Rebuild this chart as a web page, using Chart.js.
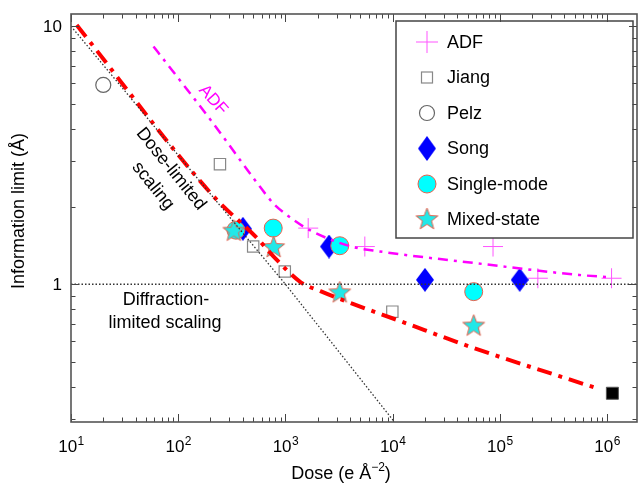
<!DOCTYPE html>
<html>
<head>
<meta charset="utf-8">
<script src="https://cdn.jsdelivr.net/npm/chart.js@4/dist/chart.umd.min.js"></script>
<style>
  html, body { margin: 0; padding: 0; background: #fff; }
  canvas { display: block; }
</style>
</head>
<body>
<canvas id="chart" width="638" height="485"></canvas>
<script>
// measured points (dose in e/A^2, information limit in A)
const adfDose = [1630, 5500, 86300, 226000, 1100000];
const adfLimit = [1.65, 1.40, 1.40, 1.055, 1.055];
const jiangDose = [245, 500, 986, 9930];
const jiangLimit = [2.92, 1.40, 1.12, 0.783];
const pelzDose = [20];
const pelzLimit = [5.92];
const songDose = [401, 2550, 20000, 153000];
const songLimit = [1.64, 1.40, 1.04, 1.04];
const singleDose = [345, 769, 3210, 57000];
const singleLimit = [1.62, 1.65, 1.41, 0.936];
const mixedDose = [330, 776, 3210, 57000];
const mixedLimit = [1.62, 1.40, 0.935, 0.695];
const blackDose = [1120000];
const blackLimit = [0.378];

// guide curves
const adfFitDose = [58.8, 77.8, 212, 577, 769, 1023, 1690, 4120, 7580, 60300, 553000, 1090000];
const adfFitLimit = [8.34, 7.19, 4.2, 2.39, 2.06, 1.86, 1.62, 1.40, 1.34, 1.206, 1.086, 1.064];
const mixedFitDose = [11.3, 214, 543, 776, 1380, 2120, 4570, 11000, 57000, 790000];
const mixedFitLimit = [10.1, 2.19, 1.51, 1.28, 1.02, 0.94, 0.83, 0.727, 0.566, 0.396];
const doseLimDose = [10, 1000, 10400];
const doseLimLimit = [10, 1, 0.2925];
const diffLimDose = [10, 1900000];
const diffLimLimit = [1, 1];

// axes
const xMin = 10, xMax = 1900000;
const yMin = 0.2925, yMax = 11.15;
const xExponents = [1, 2, 3, 4, 5, 6];
const yTickValues = [1, 10];
const yTickLabels = ['1', '10'];

const FONT = '"Liberation Sans", Arial, Helvetica, sans-serif';

function pts(xs, ys) {
    return xs.map((x, i) => ({ x: x, y: ys[i] }));
}

// point images for shapes Chart.js doesn't have
function diamondImg(w, h, color) {
    const c = document.createElement('canvas');
    c.width = w; c.height = h;
    const g = c.getContext('2d');
    g.fillStyle = color;
    g.beginPath();
    g.moveTo(w / 2, 0); g.lineTo(w, h / 2); g.lineTo(w / 2, h); g.lineTo(0, h / 2);
    g.closePath();
    g.fill();
    return c;
}

function starImg(size, fill, stroke) {
    const c = document.createElement('canvas');
    c.width = size; c.height = size;
    const g = c.getContext('2d');
    const R = size / 2 - 1, r = R * 0.42, cx = size / 2, cy = size / 2 + 1;
    g.beginPath();
    for (let i = 0; i < 10; i++) {
        const rad = i % 2 ? r : R;
        const a = -Math.PI / 2 + i * Math.PI / 5;
        const px = cx + rad * Math.cos(a), py = cy + rad * Math.sin(a);
        i ? g.lineTo(px, py) : g.moveTo(px, py);
    }
    g.closePath();
    g.fillStyle = fill; g.fill();
    g.strokeStyle = stroke; g.lineWidth = 1; g.stroke();
    return c;
}

const songShape = diamondImg(18, 24, '#0000ff');
const starShape = starImg(25, '#22e8e8', '#e8604c');

function lineSet(data, color, width, dash, smooth) {
    return {
        data: data, showLine: true, pointRadius: 0, borderColor: color,
        borderWidth: width, borderDash: dash, fill: false, order: 0, clip: 0,
        tension: smooth ? 0.4 : 0, cubicInterpolationMode: smooth ? 'monotone' : 'default'
    };
}

const legendItems = [
    { label: 'ADF', kind: 'cross' },
    { label: 'Jiang', kind: 'square' },
    { label: 'Pelz', kind: 'circle' },
    { label: 'Song', kind: 'diamond' },
    { label: 'Single-mode', kind: 'disc' },
    { label: 'Mixed-state', kind: 'star' }
];

function drawMarker(ctx, kind, x, y) {
    ctx.save();
    ctx.setLineDash([]);
    if (kind === 'cross') {
        ctx.strokeStyle = '#ff55ff'; ctx.lineWidth = 1;
        ctx.beginPath();
        ctx.moveTo(x - 11, y); ctx.lineTo(x + 11, y);
        ctx.moveTo(x, y - 11); ctx.lineTo(x, y + 11);
        ctx.stroke();
    } else if (kind === 'square') {
        ctx.strokeStyle = '#888'; ctx.lineWidth = 1.2;
        ctx.strokeRect(x - 5.5, y - 5.5, 11, 11);
    } else if (kind === 'circle') {
        ctx.strokeStyle = '#666'; ctx.lineWidth = 1.2;
        ctx.beginPath(); ctx.arc(x, y, 7.5, 0, Math.PI * 2); ctx.stroke();
    } else if (kind === 'diamond') {
        ctx.drawImage(songShape, x - 9, y - 12.5, 18, 25);
    } else if (kind === 'disc') {
        ctx.fillStyle = '#00ffff'; ctx.strokeStyle = '#e8604c'; ctx.lineWidth = 1;
        ctx.beginPath(); ctx.arc(x, y, 9, 0, Math.PI * 2); ctx.fill(); ctx.stroke();
    } else if (kind === 'star') {
        ctx.drawImage(starShape, x - 12.5, y - 13.5);
    }
    ctx.restore();
}

function textAt(ctx, str, x, y, angleDeg, size, color) {
    ctx.save();
    ctx.translate(x, y);
    ctx.rotate(angleDeg * Math.PI / 180);
    ctx.font = size + 'px ' + FONT;
    ctx.fillStyle = color;
    ctx.textAlign = 'center';
    ctx.textBaseline = 'middle';
    ctx.fillText(str, 0, 0);
    ctx.restore();
}

const framePlugin = {
    id: 'frame',
    afterDatasetsDraw(chart) {
        const ctx = chart.ctx;
        const a = chart.chartArea;
        const xs = chart.scales.x, ys = chart.scales.y;

        // annotations
        textAt(ctx, 'ADF', 213, 100, 48, 17, '#ff00ff');
        textAt(ctx, 'Dose-limited', 171, 169, 51, 18, '#000');
        textAt(ctx, 'scaling', 153, 186, 51, 18, '#000');
        textAt(ctx, 'Diffraction-', 166, 300, 0, 18, '#000');
        textAt(ctx, 'limited scaling', 165, 323, 0, 18, '#000');

        // legend box
        ctx.save();
        ctx.fillStyle = '#fff';
        ctx.strokeStyle = '#444';
        ctx.lineWidth = 1.5;
        ctx.fillRect(396, 21, 237, 217);
        ctx.strokeRect(396, 21, 237, 217);
        ctx.font = '18px ' + FONT;
        ctx.fillStyle = '#000';
        ctx.textBaseline = 'middle';
        legendItems.forEach((it, i) => {
            const y = 42 + i * 35.5;
            drawMarker(ctx, it.kind, 427, y);
            ctx.fillText(it.label, 447, y + 1);
        });
        ctx.restore();

        // inward ticks on all four sides
        ctx.save();
        ctx.strokeStyle = '#444';
        ctx.lineWidth = 1;
        ctx.beginPath();
        for (let e = 1; e <= 6; e++) {
            for (let k = 1; k <= 9; k++) {
                const v = k * Math.pow(10, e);
                if (v < xMin || v > xMax) continue;
                const px = Math.round(xs.getPixelForValue(v)) + 0.5;
                const len = k === 1 ? 8 : 4.5;
                ctx.moveTo(px, a.bottom); ctx.lineTo(px, a.bottom - len);
                ctx.moveTo(px, a.top); ctx.lineTo(px, a.top + len);
            }
        }
        for (let e = -1; e <= 1; e++) {
            for (let k = 1; k <= 9; k++) {
                const v = k * Math.pow(10, e);
                if (v < yMin || v > yMax) continue;
                const py = Math.round(ys.getPixelForValue(v)) + 0.5;
                const len = k === 1 ? 8 : 4.5;
                ctx.moveTo(a.left, py); ctx.lineTo(a.left + len, py);
                ctx.moveTo(a.right, py); ctx.lineTo(a.right - len, py);
            }
        }
        ctx.stroke();
        ctx.strokeStyle = '#555';
        ctx.lineWidth = 1.6;
        ctx.strokeRect(a.left, a.top, a.right - a.left, a.bottom - a.top);
        ctx.restore();

        // tick labels
        ctx.save();
        ctx.fillStyle = '#000';
        ctx.textBaseline = 'alphabetic';
        xExponents.forEach(e => {
            const px = xs.getPixelForValue(Math.pow(10, e));
            ctx.font = '17px ' + FONT;
            const wMain = ctx.measureText('10').width;
            ctx.font = '12px ' + FONT;
            const wSup = ctx.measureText(String(e)).width;
            const x0 = px - (wMain + wSup) / 2;
            ctx.font = '17px ' + FONT;
            ctx.fillText('10', x0, 451.5);
            ctx.font = '12px ' + FONT;
            ctx.fillText(String(e), x0 + wMain + 0.5, 444.5);
        });
        ctx.font = '17px ' + FONT;
        ctx.textAlign = 'right';
        yTickValues.forEach((v, i) => {
            ctx.fillText(yTickLabels[i], 62, ys.getPixelForValue(v) + 6);
        });

        // axis titles
        ctx.textAlign = 'left';
        ctx.font = '18px ' + FONT;
        const t1 = 'Dose (e \u00C5', t2 = '\u22122', t3 = ')';
        const w1 = ctx.measureText(t1).width, w3 = ctx.measureText(t3).width;
        ctx.font = '12px ' + FONT;
        const w2 = ctx.measureText(t2).width;
        let tx = 341 - (w1 + w2 + w3) / 2;
        ctx.font = '18px ' + FONT;
        ctx.fillText(t1, tx, 479);
        ctx.font = '12px ' + FONT;
        ctx.fillText(t2, tx + w1, 471);
        ctx.font = '18px ' + FONT;
        ctx.fillText(t3, tx + w1 + w2, 479);
        ctx.restore();

        textAt(ctx, 'Information limit (\u00C5)', 19, 211, -90, 18, '#000');
    }
};

new Chart(document.getElementById('chart'), {
    type: 'scatter',
    data: {
        datasets: [
            lineSet(pts(doseLimDose, doseLimLimit), '#333', 1.3, [1.5, 2], false),
            lineSet(pts(diffLimDose, diffLimLimit), '#333', 1.3, [1.5, 2], false),
            lineSet(pts(adfFitDose, adfFitLimit), '#ff00ff', 2.5, [10, 6, 3, 6], true),
            lineSet(pts(mixedFitDose, mixedFitLimit), '#ff0000', 4, [15, 7, 4, 7], true),
            {
                label: 'ADF', data: pts(adfDose, adfLimit), order: 7,
                pointStyle: 'cross', pointRadius: 10, borderColor: '#ff55ff', borderWidth: 1
            },
            {
                label: 'Jiang', data: pts(jiangDose, jiangLimit), order: 6,
                pointStyle: 'rect', pointRadius: 8, backgroundColor: 'rgba(0,0,0,0)',
                borderColor: '#888', borderWidth: 1.2
            },
            {
                label: 'black', data: pts(blackDose, blackLimit), order: 6,
                pointStyle: 'rect', pointRadius: 8.5, backgroundColor: '#000',
                borderColor: '#555', borderWidth: 1
            },
            {
                label: 'Pelz', data: pts(pelzDose, pelzLimit), order: 5,
                pointStyle: 'circle', pointRadius: 7.5, backgroundColor: 'rgba(0,0,0,0)',
                borderColor: '#666', borderWidth: 1.2
            },
            {
                label: 'Song', data: pts(songDose, songLimit), order: 4,
                pointStyle: songShape, pointRadius: 10
            },
            {
                label: 'Single-mode', data: pts(singleDose, singleLimit), order: 3,
                pointStyle: 'circle', pointRadius: 9, backgroundColor: '#00ffff',
                borderColor: '#e8604c', borderWidth: 1
            },
            {
                label: 'Mixed-state', data: pts(mixedDose, mixedLimit), order: 2,
                pointStyle: starShape, pointRadius: 10
            }
        ]
    },
    options: {
        responsive: false,
        animation: false,
        events: [],
        layout: { autoPadding: false, padding: { left: 71, top: 14, right: 1, bottom: 63 } },
        plugins: { legend: { display: false }, tooltip: { enabled: false } },
        scales: {
            x: { type: 'logarithmic', min: xMin, max: xMax, display: false },
            y: { type: 'logarithmic', min: yMin, max: yMax, display: false }
        }
    },
    plugins: [framePlugin]
});
</script>
</body>
</html>
